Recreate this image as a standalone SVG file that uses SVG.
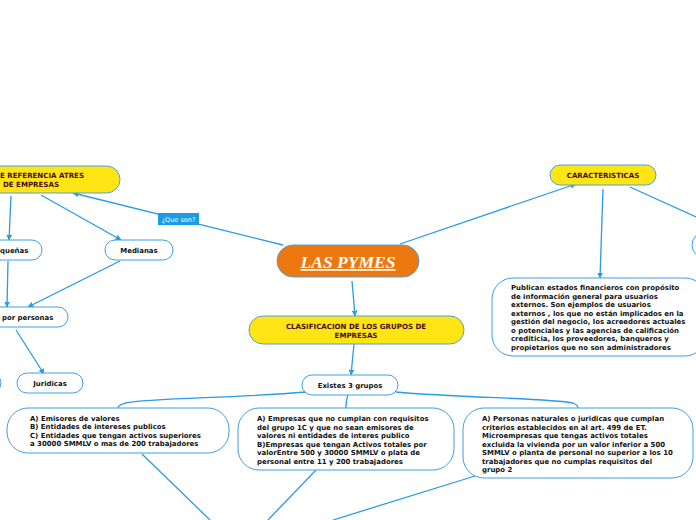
<svg xmlns="http://www.w3.org/2000/svg" width="696" height="520" viewBox="0 0 696 520">
<style>
.y{fill:#ffe514;stroke:#4aa3e0;stroke-width:1}
.w{fill:#fff;stroke:#3ea0e4;stroke-width:1}
.t{font-family:"DejaVu Sans",Verdana,sans-serif;font-weight:bold;font-size:6.95px;fill:#111}
.ty{font-family:"DejaVu Sans",Verdana,sans-serif;font-weight:bold;font-size:7.05px;fill:#4a0a10}
.c{fill:none;stroke:#2a9be4;stroke-width:1.3}
</style>
<defs>
<marker id="a" viewBox="0 0 10 10" refX="9" refY="5" markerWidth="6" markerHeight="6" markerUnits="userSpaceOnUse" orient="auto">
<path d="M0,0 L10,5 L0,10 z" fill="#2a9be4"/>
</marker>
</defs>
<rect width="696" height="520" fill="#fff"/>
<g id="connectors">
<path class="c" d="M283,245 L73,193" marker-end="url(#a)"/>
<path class="c" d="M400,244 L576,184" marker-end="url(#a)"/>
<path class="c" d="M352,281 L355,316" marker-end="url(#a)"/>
<path class="c" d="M354,344 L351,375" marker-end="url(#a)"/>
<path class="c" d="M11,196 L9,240" marker-end="url(#a)"/>
<path class="c" d="M41,195 L121,240" marker-end="url(#a)"/>
<path class="c" d="M8,261 L7,307" marker-end="url(#a)"/>
<path class="c" d="M120,261 L28,307" marker-end="url(#a)"/>
<path class="c" d="M16,330 L44,374" marker-end="url(#a)"/>
<path class="c" d="M603,189 L600,278" marker-end="url(#a)"/>
<path class="c" d="M630,187 L696,217"/>
<path class="c" stroke-width="1.6" d="M306,392 C240,398 150,398 125,403 Q118,405 118,408"/>
<path class="c" stroke-width="1.6" d="M396,392 C460,398 550,398 573,403 Q578,405 578,408"/>
<path class="c" d="M348,395 Q346,400 346,408"/>
<path class="c" d="M142,454 L210,520"/>
<path class="c" d="M316,470 L268,520"/>
<path class="c" d="M475,476 L333,520"/>
</g>
<g id="n-referencia">
<rect class="y" x="-110" y="166" width="230" height="27" rx="13.5"/>
<text class="ty" x="0" y="178">E REFERENCIA ATRES</text>
<text class="ty" x="3" y="187">DE EMPRESAS</text>
</g>
<g id="n-pequenas">
<rect class="w" x="-30" y="240" width="72" height="20" rx="10"/>
<text class="t" x="0" y="252.5">queñas</text>
</g>
<g id="n-medianas">
<rect class="w" x="105" y="240" width="68" height="20" rx="10"/>
<text class="t" x="139" y="252.5" text-anchor="middle">Medianas</text>
</g>
<g id="n-personas">
<rect class="w" x="-30" y="307" width="98" height="20" rx="10"/>
<text class="t" x="2" y="319.5">por personas</text>
</g>
<g id="n-juridicas">
<rect class="w" x="17" y="373" width="66" height="20" rx="10"/>
<text class="t" x="50" y="385.5" text-anchor="middle">Juridicas</text>
</g>
<g id="n-left-edge">
<rect class="w" x="-60" y="373" width="61" height="20" rx="10"/>
</g>
<g id="n-quesong">
<rect x="158" y="213" width="41" height="12" fill="#1a9be6"/>
<text x="178.5" y="221.5" text-anchor="middle" font-family="DejaVu Sans,Verdana,sans-serif" font-size="6.5" fill="#fff">¿Que son?</text>
</g>
<g id="n-pymes">
<rect x="277" y="245" width="142" height="32" rx="16" fill="#ee7810" stroke="#5a9ed6" stroke-width="1"/>
<text x="348" y="268" text-anchor="middle" font-family="Liberation Serif,Times New Roman,serif" font-weight="bold" font-style="italic" font-size="17.5" fill="#fff" text-decoration="underline">LAS PYMES</text>
</g>
<g id="n-clasificacion">
<rect class="y" x="249" y="316" width="215" height="28" rx="14"/>
<text class="ty" x="356" y="329" text-anchor="middle">CLASIFICACION DE LOS GRUPOS DE</text>
<text class="ty" x="356" y="337.5" text-anchor="middle">EMPRESAS</text>
</g>
<g id="n-existes">
<rect class="w" x="302" y="375" width="96" height="20" rx="10"/>
<text class="t" x="350" y="387.5" text-anchor="middle">Existes 3 grupos</text>
</g>
<g id="n-grupo1">
<rect class="w" x="7" y="408" width="222" height="45" rx="21"/>
<text class="t" x="30" y="421">A) Emisores de valores</text>
<text class="t" x="30" y="429">B) Entidades de intereses publicos</text>
<text class="t" x="30" y="438">C) Entidades que tengan activos superiores</text>
<text class="t" x="30" y="446">a 30000 SMMLV o mas de 200 trabajadores</text>
</g>
<g id="n-grupo2">
<rect class="w" x="238" y="408" width="216" height="62" rx="21"/>
<text class="t" x="257" y="421">A) Empresas que no cumplan con requisitos</text>
<text class="t" x="257" y="429.5">del grupo 1C y que no sean emisores de</text>
<text class="t" x="257" y="438">valores ni entidades de interes publico</text>
<text class="t" x="257" y="446.5">B)Empresas que tengan Activos totales por</text>
<text class="t" x="257" y="455">valorEntre 500 y 30000 SMMLV o plata de</text>
<text class="t" x="257" y="463.5">personal entre 11 y 200 trabajadores</text>
</g>
<g id="n-grupo3">
<rect class="w" x="463" y="408" width="230" height="70" rx="21"/>
<text class="t" x="482" y="421">A) Personas naturales o juridicas que cumplan</text>
<text class="t" x="482" y="429.5">criterios establecidos en al art. 499 de ET.</text>
<text class="t" x="482" y="438">Microempresas que tengas activos totales</text>
<text class="t" x="482" y="446.5">excluida la vivienda por un valor inferior a 500</text>
<text class="t" x="482" y="455">SMMLV o planta de personal no superior a los 10</text>
<text class="t" x="482" y="463.5">trabajadores que no cumplas requisitos del</text>
<text class="t" x="482" y="472">grupo 2</text>
</g>
<g id="n-caracteristicas">
<rect class="y" x="550" y="165" width="106" height="20" rx="10"/>
<text class="ty" x="603" y="177.5" text-anchor="middle">CARACTERISTICAS</text>
</g>
<g id="n-publican">
<rect class="w" x="492" y="278" width="214" height="78" rx="21"/>
<text class="t" x="511" y="290">Publican estados financieros con propósito</text>
<text class="t" x="511" y="298.5">de información general  para usuarios</text>
<text class="t" x="511" y="307">externos. Son ejemplos de usuarios</text>
<text class="t" x="511" y="315.5">externos , los que no están implicados en la</text>
<text class="t" x="511" y="324">gestión del negocio, los acreedores actuales</text>
<text class="t" x="511" y="332.5">o potenciales y las agencias de calificación</text>
<text class="t" x="511" y="341">crediticia, los proveedores, banqueros y</text>
<text class="t" x="511" y="349.5">propietarios que no son administradores</text>
</g>
<g id="n-right-edge">
<rect class="w" x="692" y="232" width="80" height="26" rx="13"/>
</g>
</svg>
